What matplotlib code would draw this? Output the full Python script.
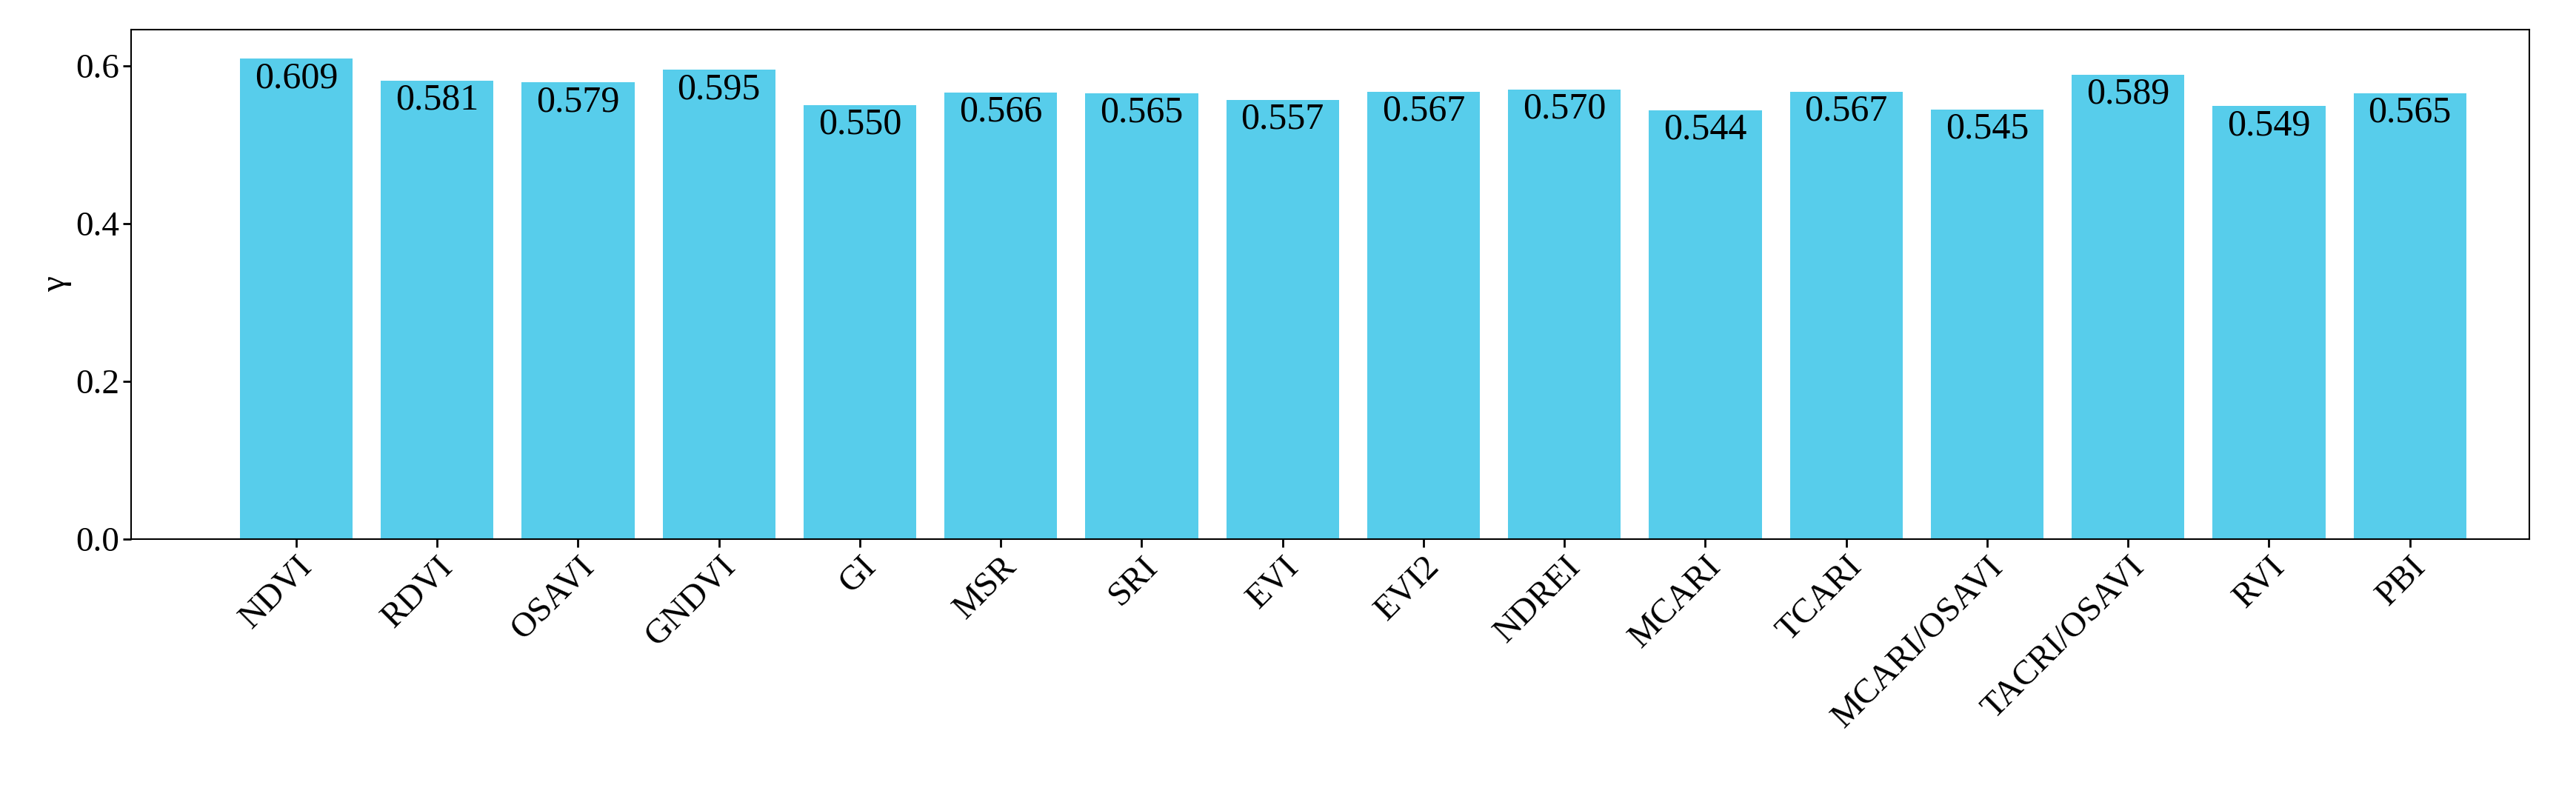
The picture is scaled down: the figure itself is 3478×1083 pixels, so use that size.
import matplotlib.pyplot as plt

plt.rcParams['font.family'] = ['Liberation Serif', 'DejaVu Serif']

indices = ["NDVI", "RDVI", "OSAVI", "GNDVI", "GI", "MSR", "SRI", "EVI", "EVI2",
           "NDREI", "MCARI", "TCARI", "MCARI/OSAVI", "TACRI/OSAVI", "RVI", "PBI"]
gamma = [0.609, 0.581, 0.579, 0.595, 0.550, 0.566, 0.565, 0.557, 0.567,
         0.570, 0.544, 0.567, 0.545, 0.589, 0.549, 0.565]

fig = plt.figure(figsize=(34.78, 10.83), dpi=100)
ax = fig.add_axes([0.051, 0.328, 0.931, 0.635])

x = range(len(indices))
ax.bar(x, gamma, width=0.8, color="#57CDEB")
for xi, v in zip(x, gamma):
    ax.text(xi, v - 0.003, f"{v:.3f}", ha="center", va="top", fontsize=36)

ax.set_xticks(list(x))
ax.set_xticklabels(indices, rotation=45, ha="right", rotation_mode="anchor", fontsize=34)
ax.set_xlim(-1.17, 15.85)
ax.set_ylim(0, 0.646)
ax.set_yticks([0.0, 0.2, 0.4, 0.6])
ax.tick_params(axis="y", labelsize=34, width=2, length=8)
ax.tick_params(axis="x", width=2, length=8)
ax.set_ylabel("γ", fontsize=34)
for s in ax.spines.values():
    s.set_linewidth(1.5)

fig.savefig("out.png", dpi=100)
